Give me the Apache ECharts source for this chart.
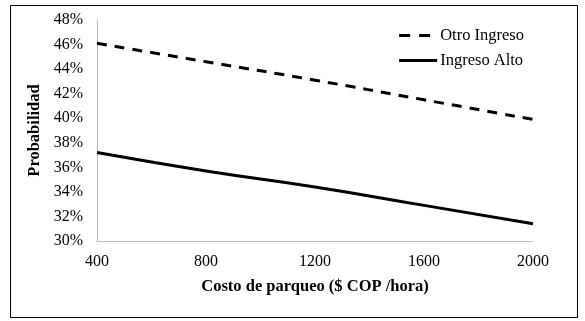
<!DOCTYPE html>
<html>
<head>
<meta charset="utf-8">
<script src="https://cdn.jsdelivr.net/npm/echarts@6/dist/echarts.min.js"></script>
<style>
  body { margin: 0; background: #fff; }
  #main { width: 585px; height: 321px; }
</style>
</head>
<body>
<div id="main"></div>
<script>
// costo de parqueo (x) y probabilidades (%)
var costo = [400, 800, 1200, 1600, 2000];
var otroIngreso = [46.1, 44.6, 43.1, 41.5, 39.9];
var ingresoAlto = [37.2, 35.7, 34.4, 32.9, 31.4];
var seriesNames = ['Otro Ingreso', 'Ingreso Alto'];

var font = '"Liberation Serif", "Times New Roman", serif';

function pairs(xs, ys) {
    return xs.map(function (x, i) { return [x, ys[i]]; });
}

var myChart = echarts.init(document.getElementById('main'));
var option = {
    backgroundColor: '#fff',
    animation: false,
    textStyle: { fontFamily: font },
    graphic: [{
        type: 'rect',
        shape: { x: 10.5, y: 5.5, width: 567, height: 312 },
        style: { fill: 'none', stroke: '#000', lineWidth: 1 },
        silent: true
    }],
    grid: { left: 97, right: 52, top: 20, bottom: 80 },
    legend: {
        orient: 'vertical',
        right: 56,
        top: 22,
        itemWidth: 38,
        itemHeight: 12,
        itemGap: 8,
        data: [
            { name: seriesNames[0], lineStyle: { width: 3, type: [11, 9] } },
            { name: seriesNames[1], lineStyle: { width: 3 } }
        ],
        itemStyle: { opacity: 0 },
        textStyle: { fontFamily: font, fontSize: 16.5, color: '#000', padding: [0, 0, 0, -2] }
    },
    xAxis: {
        type: 'value',
        min: 400,
        max: 2000,
        interval: 400,
        name: 'Costo de parqueo ($ COP /hora)',
        nameLocation: 'middle',
        nameGap: 37,
        nameTextStyle: { fontFamily: font, fontSize: 16.5, fontWeight: 'bold', color: '#000' },
        splitLine: { show: false },
        axisTick: { show: false },
        axisLine: { lineStyle: { color: '#bfbfbf' } },
        axisLabel: {
            fontFamily: font, fontSize: 16, color: '#000', margin: 13,
            formatter: function (v) { return String(v); }
        }
    },
    yAxis: {
        type: 'value',
        min: 30,
        max: 48,
        interval: 2,
        name: 'Probabilidad',
        nameLocation: 'middle',
        nameGap: 43,
        nameTextStyle: { fontFamily: font, fontSize: 16.5, fontWeight: 'bold', color: '#000' },
        splitLine: { show: false },
        axisTick: { show: false },
        axisLine: { show: true, lineStyle: { color: '#bfbfbf' } },
        axisLabel: {
            fontFamily: font, fontSize: 16, color: '#000', margin: 14,
            formatter: function (v) { return v + '%'; }
        }
    },
    series: [
        {
            name: seriesNames[0],
            type: 'line',
            symbol: 'none',
            smooth: true,
            lineStyle: { color: '#000', width: 3, type: [10, 8] },
            itemStyle: { color: '#000' },
            data: pairs(costo, otroIngreso)
        },
        {
            name: seriesNames[1],
            type: 'line',
            symbol: 'none',
            smooth: true,
            lineStyle: { color: '#000', width: 3 },
            itemStyle: { color: '#000' },
            data: pairs(costo, ingresoAlto)
        }
    ]
};
myChart.setOption(option);
</script>
</body>
</html>
